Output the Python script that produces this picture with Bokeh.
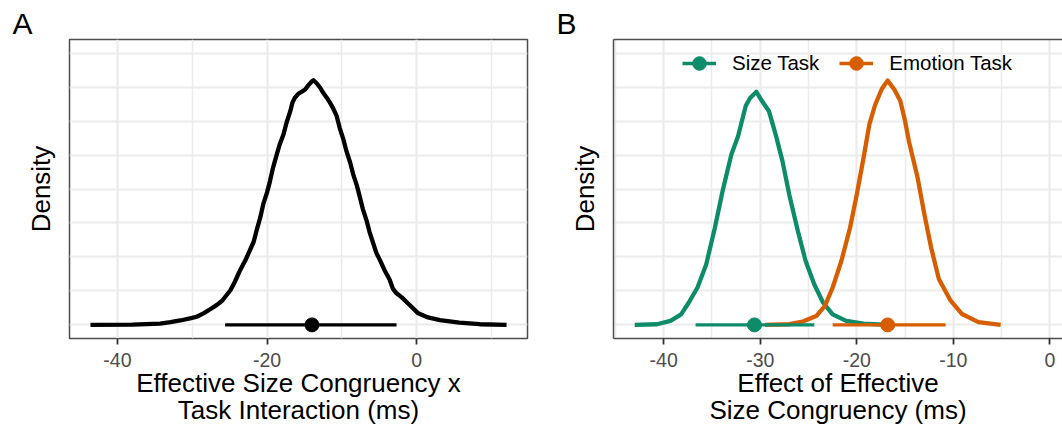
from bokeh.plotting import figure
from bokeh.models import (Range1d, FixedTicker, Legend, LegendItem, LinearAxis, Title,
                          CustomJSTickFormatter)
from bokeh.layouts import row
from bokeh.embed import file_html
from bokeh.resources import INLINE

# ---------------- data ----------------
# Panel A: posterior density of the Effective Size Congruency x Task interaction
a_x = [-43.6, -38.0, -34.3, -32.9, -31.6, -30.3, -29.4, -28.5, -27.6, -26.7,
       -26.0, -25.4, -24.9, -24.3, -23.6, -22.9, -22.5, -21.8, -21.4, -20.9,
       -20.5, -20.0, -19.6, -19.2, -18.7, -18.3, -17.8, -17.4, -16.9, -16.6,
       -16.3, -15.8, -15.4, -14.9, -14.5, -14.0, -13.8, -13.4, -12.9, -12.5,
       -12.0, -11.6, -11.2, -10.7, -10.3, -9.8, -9.4, -8.9, -8.5, -8.0,
       -7.6, -7.2, -6.7, -6.3, -5.8, -5.4, -4.9, -4.3, -3.6, -3.2,
       -2.7, -2.0, -1.4, -0.5, 0.2, 1.5, 3.1, 5.7, 8.4, 12.0]
a_density = [0.0, 0.01, 0.04, 0.08, 0.13, 0.19, 0.24, 0.34, 0.46, 0.59,
             0.71, 0.88, 1.02, 1.27, 1.61, 1.90, 2.10, 2.44, 2.78, 3.17,
             3.56, 3.90, 4.24, 4.63, 5.02, 5.32, 5.61, 5.95, 6.29, 6.55,
             6.68, 6.81, 6.86, 6.93, 7.05, 7.17, 7.20, 7.12, 6.98, 6.83,
             6.68, 6.54, 6.39, 6.15, 5.80, 5.46, 5.12, 4.78, 4.44, 4.10,
             3.76, 3.41, 3.07, 2.73, 2.39, 2.12, 1.90, 1.61, 1.32, 1.07,
             0.93, 0.81, 0.68, 0.49, 0.34, 0.22, 0.14, 0.07, 0.02, 0.0]
a_interval = [-25.6, -2.7]
a_median = -14.0

# Panel B: Size Task
size_x = [-43.0, -40.7, -39.3, -38.2, -37.4, -36.5, -35.6, -34.7, -33.9, -33.0,
          -32.3, -31.9, -31.5, -31.05, -30.4, -29.8, -29.1, -28.4, -27.7, -27.0,
          -26.1, -25.3, -24.4, -23.5, -22.5, -21.1, -19.3, -17.2]
size_density = [0.0, 0.02, 0.12, 0.31, 0.66, 1.10, 1.78, 2.86, 3.94, 5.01,
                5.55, 6.0, 6.45, 6.68, 6.86, 6.58, 6.29, 5.6, 4.82, 3.84,
                2.76, 1.88, 1.19, 0.66, 0.31, 0.12, 0.04, 0.01]
size_interval = [-36.7, -24.4]
size_median = -30.6

# Panel B: Emotion Task
emo_x = [-29.5, -27.0, -25.6, -24.2, -23.3, -22.5, -21.6, -20.7, -20.0, -19.3,
         -18.7, -18.1, -17.4, -16.8, -16.1, -15.5, -15.0, -14.6, -13.7, -13.0,
         -12.3, -11.5, -10.3, -9.1, -7.4, -5.1]
emo_density = [0.0, 0.02, 0.10, 0.26, 0.56, 1.10, 1.88, 2.86, 3.84, 4.92,
               5.9, 6.48, 6.95, 7.19, 6.92, 6.6, 6.0, 5.4, 4.33, 3.25,
               2.27, 1.35, 0.72, 0.32, 0.08, 0.0]
emo_interval = [-22.5, -10.8]
emo_median = -16.8

task_labels = ["Size Task", "Emotion Task"]
panel_letters = ["A", "B"]
a_title = "Effective Size Congruency x\nTask Interaction (ms)"
b_title = "Effect of Effective\nSize Congruency (ms)"
y_title = "Density"

a_xticks = [-40, -20, 0]
a_xminor = [-30, -10, 10]
b_xticks = [-40, -30, -20, -10, 0]
b_xminor = [-45, -35, -25, -15, -5]
y_grid = [0, 1, 2, 3, 4, 5, 6, 7, 8]

# ---------------- styling ----------------
FONT = "Liberation Sans"
BORDER = "#4D4D4D"
GRID = "#EBEBEB"
GREEN = "#0E8C6A"
ORANGE = "#D65E00"
H = 427
TOP = 39
BOTTOM = 89


def make_fig(width, xr, left, right, ticks, minor, frame_axes, letter, xtitle):
    p = figure(width=width, height=H, x_range=Range1d(*xr), y_range=Range1d(-0.4, 8.4),
               output_backend="svg", toolbar_location=None,
               min_border_left=left, min_border_right=right,
               min_border_top=TOP, min_border_bottom=BOTTOM,
               background_fill_color="white", border_fill_color="white")
    xt = FixedTicker(ticks=ticks, minor_ticks=minor)
    yt = FixedTicker(ticks=y_grid, minor_ticks=[])
    p.xaxis.ticker = xt
    p.xgrid.ticker = xt
    p.yaxis.ticker = yt
    p.ygrid.ticker = yt

    p.xgrid.grid_line_color = GRID
    p.xgrid.grid_line_width = 2.2
    p.xgrid.minor_grid_line_color = GRID
    p.xgrid.minor_grid_line_width = 1.5
    p.ygrid.grid_line_color = GRID
    p.ygrid.grid_line_width = 1.8

    xa = p.xaxis[0]
    xa.formatter = CustomJSTickFormatter(code="return tick.toFixed(0)")
    xa.major_label_text_font = FONT
    xa.major_label_text_font_size = "19.5px"
    xa.major_label_text_color = "#4D4D4D"
    xa.major_tick_out = 6
    xa.major_tick_in = 0
    xa.major_tick_line_color = "#333333"
    xa.major_tick_line_width = 1.8
    xa.minor_tick_line_color = None
    xa.major_label_standoff = 8
    xa.axis_label = xtitle
    xa.axis_label_standoff = -2
    xa.axis_label_text_font = FONT
    xa.axis_label_text_font_size = "26px"
    xa.axis_label_text_font_style = "normal"
    xa.axis_label_text_color = "black"
    xa.axis_label_text_line_height = 0.9

    ya = p.yaxis[0]
    ya.major_label_text_font_size = "0px"
    ya.major_label_text_color = None
    ya.major_tick_line_color = None
    ya.minor_tick_line_color = None
    ya.major_tick_out = 0
    ya.major_tick_in = 0
    ya.major_label_standoff = 0
    ya.axis_label = y_title
    ya.axis_label_standoff = 14
    ya.axis_label_text_font = FONT
    ya.axis_label_text_font_size = "26px"
    ya.axis_label_text_font_style = "normal"
    ya.axis_label_text_color = "black"

    if frame_axes:
        p.outline_line_color = None
        xa.axis_line_color = BORDER
        xa.axis_line_width = 1.5
        ya.axis_line_color = BORDER
        ya.axis_line_width = 1.5
        top = LinearAxis(ticker=FixedTicker(ticks=[]), major_label_text_font_size="0px",
                         major_tick_out=0, major_tick_in=0, minor_tick_out=0, minor_tick_in=0,
                         major_label_standoff=0, axis_line_color=BORDER, axis_line_width=1.5)
        p.add_layout(top, "above")
    else:
        p.outline_line_color = BORDER
        p.outline_line_width = 1.5
        xa.axis_line_color = None
        ya.axis_line_color = None

    p.title = Title(text=letter, align="left", offset=-57, standoff=0,
                    text_font=FONT, text_font_size="30px", text_font_style="normal",
                    text_color="black")
    return p


# ---------------- Panel A ----------------
WA = 548
pa = make_fig(WA, (-46.4, 14.8), 69, 21, a_xticks, a_xminor, False,
              panel_letters[0], a_title)
pa.line(a_x, a_density, line_color="black", line_width=4.3, line_join="round")
pa.segment(x0=[a_interval[0]], y0=[0], x1=[a_interval[1]], y1=[0],
           line_color="black", line_width=3.4)
pa.scatter([a_median], [0], size=14, color="black")

# ---------------- Panel B ----------------
WB = 1062 - WA
LB = 65
pb = make_fig(WB, (-45.2, -45.2 + (WB - LB) / 9.655), LB, 0, b_xticks, b_xminor, True,
              panel_letters[1], b_title)
pb.line(size_x, size_density, line_color=GREEN, line_width=4.3, line_join="round")
pb.line(emo_x, emo_density, line_color=ORANGE, line_width=4.3, line_join="round")
seg_s = pb.segment(x0=[size_interval[0]], y0=[0], x1=[size_interval[1]], y1=[0],
                   line_color=GREEN, line_width=3.4)
seg_e = pb.segment(x0=[emo_interval[0]], y0=[0], x1=[emo_interval[1]], y1=[0],
                   line_color=ORANGE, line_width=3.4)
pt_s = pb.scatter([size_median], [0], size=14, color=GREEN)
pt_e = pb.scatter([emo_median], [0], size=14, color=ORANGE)

legend = Legend(items=[LegendItem(label=task_labels[0], renderers=[seg_s, pt_s]),
                       LegendItem(label=task_labels[1], renderers=[seg_e, pt_e])],
                location=(69, 257), orientation="horizontal",
                glyph_width=34, glyph_height=36, label_standoff=16, spacing=20,
                padding=0, margin=0, border_line_color=None, background_fill_alpha=0,
                label_text_font=FONT, label_text_font_size="20.5px", label_text_color="black")
pb.add_layout(legend)

layout = row(pa, pb)
open("out.html", "w").write(file_html(layout, INLINE))
